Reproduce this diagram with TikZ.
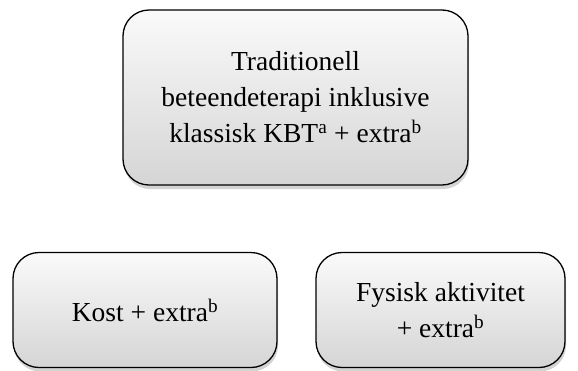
\documentclass[tikz,border=0pt]{standalone}
\usepackage{fontspec}
\setmainfont{Liberation Serif}
\usetikzlibrary{shadows}
\tikzset{
  box/.style={draw=black, line width=1.3pt, rounded corners=26pt,
    top color=gray!4, bottom color=gray!33,
    drop shadow={shadow xshift=1pt, shadow yshift=-4pt, opacity=0.35},
    align=center, font=\fontsize{27.5}{36}\selectfont, inner sep=0pt}
}
\begin{document}
\begin{tikzpicture}[x=1pt,y=-1pt]
\useasboundingbox (0,0) rectangle (578,370);
\node[box, minimum width=345pt, minimum height=175pt] (top) at (295.5,97.5)
  {Traditionell\\beteendeterapi inklusive\\klassisk KBT\textsuperscript{a} + extra\textsuperscript{b}};
\node[box, minimum width=264pt, minimum height=115pt] (kost) at (145,310)
  {Kost + extra\textsuperscript{b}};
\node[box, minimum width=249pt, minimum height=115pt] (fys) at (440.5,310)
  {Fysisk aktivitet\\+ extra\textsuperscript{b}};
\end{tikzpicture}
\end{document}
